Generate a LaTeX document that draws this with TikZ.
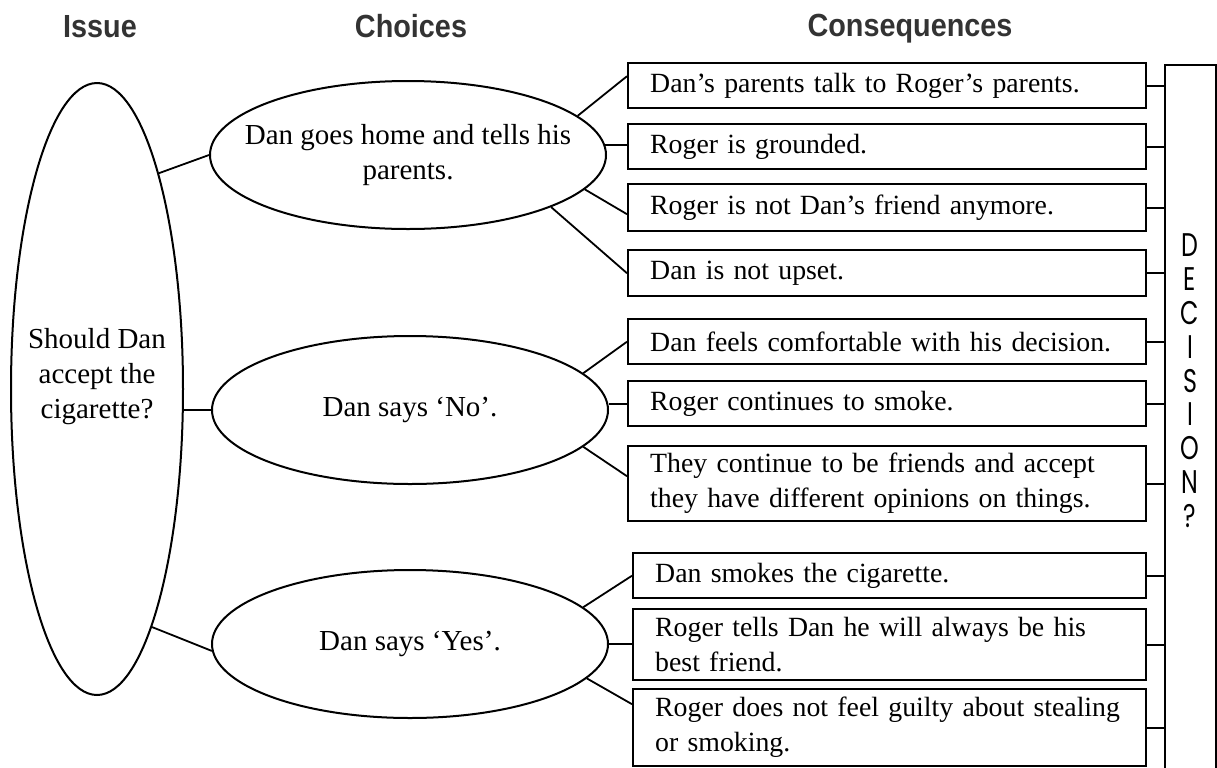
\documentclass[tikz,border=0pt]{standalone}
\usepackage{fontspec}
\usepackage{graphicx}
\usetikzlibrary{shapes.geometric}
\setmainfont{Liberation Serif}
\newfontfamily\headfont{Liberation Sans}
\newfontfamily\decfont{Poppins}
\definecolor{headgray}{HTML}{333333}
\hyphenpenalty=10000

\tikzset{
  head/.style={font=\headfont\bfseries\fontsize{16pt}{18pt}\selectfont, text=headgray, anchor=base},
  oval/.style={draw, ellipse, line width=1pt, inner sep=0pt},
  cons/.style={draw, rectangle, line width=1.2pt, anchor=north west,
    minimum height=#1, text width=237pt, inner xsep=11pt, inner ysep=0pt, align=left,
    font=\fontsize{13.9pt}{17.5pt}\selectfont},
  low/.style={text width=234.5pt},
  link/.style={line width=0.9pt},
  decletter/.style={font=\decfont\fontsize{14pt}{14pt}\selectfont, inner sep=0pt}
}

\begin{document}
\begin{tikzpicture}[x=0.5pt, y=-0.5pt, font=\fontsize{14.5pt}{17.5pt}\selectfont]
    \useasboundingbox (0,0) rectangle (1217,767);
    % column titles
    \node[head] (hissue) at (100,37) {\scalebox{.9}[1]{Issue}};
    \node[head] (hchoice) at (411,37) {\scalebox{.9}[1]{Choices}};
    \node[head] (hcons) at (910,36) {\scalebox{.9}[1]{Consequences}};

    % issue and choices
    \node[oval, minimum width=86pt, minimum height=306pt] (issue) at (97,389) {};
    \node[align=center] (issuetxt) at (97,377) {Should Dan\\accept the\\cigarette?};
    \node[oval, minimum width=198pt, minimum height=74pt,
      label={[align=center]center:Dan goes home and tells his\\parents.}] (c1) at (408,155) {};
    \node[oval, minimum width=198pt, minimum height=74pt,
      label={center:Dan says ‘No’.}] (c2) at (410,410) {};
    \node[oval, minimum width=198pt, minimum height=74pt,
      label={center:Dan says ‘Yes’.}] (c3) at (410,644) {};

    % consequences
    \node[cons=22.5pt] (k1) at (627,62) {Dan’s parents talk to Roger’s parents.};
    \node[cons=22.5pt] (k2) at (627,123) {Roger is grounded.};
    \node[cons=23.5pt] (k3) at (627,183) {Roger is not Dan’s friend anymore.};
    \node[cons=23pt] (k4) at (627,249) {Dan is not upset.};
    \node[cons=22.5pt] (k5) at (627,318) {Dan feels comfortable with his decision.};
    \node[cons=22.5pt] (k6) at (627,380) {Roger continues to smoke.};
    \node[cons=37.5pt] (k7) at (627,445) {They continue to be friends and accept\\they have different opinions on things.};
    \node[cons=22.5pt, low] (k8) at (632,552) {Dan smokes the cigarette.};
    \node[cons=35.5pt, low] (k9) at (632,608) {Roger tells Dan he will always be his\\best friend.};
    \node[cons=38.5pt, low] (k10) at (632,688) {Roger does not feel guilty about stealing\\or smoking.};

    % decision column
    \node[draw, line width=1.2pt, anchor=north west, minimum width=25.5pt, minimum height=380pt, inner sep=0pt] (dec) at (1164,64) {};
    \foreach \ch [count=\i] in {D,E,C,I,S,I,O,N,?}
      \node[decletter] (d\i) at (1190,{211.1+33.9*\i}) {\scalebox{.85}[1.17]{\ch}};

    % issue to choices
    \draw[link] (issue.74) -- (c1.west);
    \draw[link] (issue.east |- c2.west) -- (c2.west);
    \draw[link] (issue.-77.5) -- (c3.182);

    % choices to consequences
    \draw[link] (c1.13) -- ([yshift=4.75pt]k1.west);
    \draw[link] (c1.3) -- (c1.3 -| k2.west);
    \draw[link] (c1.-11) -- ([yshift=-3.25pt]k3.west);
    \draw[link] (c1.-20.4) -- (k4.west);
    \draw[link] (c2.12.6) -- (k5.west);
    \draw[link] (c2.east |- k6.west) -- (k6.west);
    \draw[link] (c2.-12) -- ([yshift=3.75pt]k7.west);
    \draw[link] (c3.12.8) -- (k8.west);
    \draw[link] (c3.east) -- (c3.east -| k9.west);
    \draw[link] (c3.-11) -- ([yshift=11.75pt]k10.west);

    % consequences to decision
    \foreach \k in {k1,k2,k3,k4,k5,k6,k7,k8,k9,k10}
      \draw[link] (\k.east) -- (\k.east -| dec.west);
  \end{tikzpicture}
\end{document}
